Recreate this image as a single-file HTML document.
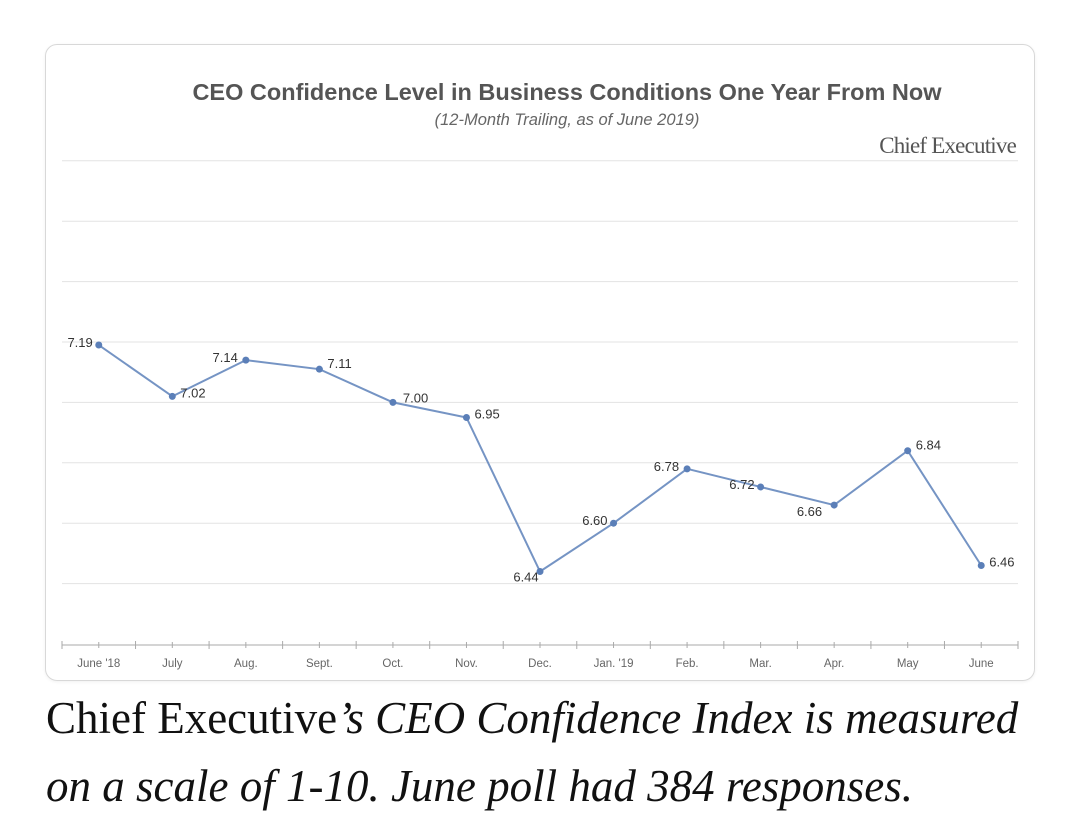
<!DOCTYPE html>
<html><head><meta charset="utf-8"><style>
body{margin:0;width:1080px;height:836px;background:#fff;overflow:hidden;font-family:"Liberation Sans",sans-serif}
#card{position:absolute;left:45px;top:44px;width:988px;height:635px;border:1px solid #d8d8d8;border-radius:12px;box-shadow:0 1px 3px rgba(0,0,0,0.06)}
#caption{position:absolute;left:46px;top:684px;font-family:"Liberation Serif",serif;font-size:45px;line-height:68px;color:#111;font-style:italic;white-space:nowrap}
</style></head><body>
<div id="card"></div>
<svg width="1080" height="836" style="position:absolute;left:0;top:0" id="chart">
<text x="567" y="100" text-anchor="middle" font-family="Liberation Sans" font-weight="bold" font-size="23.5" fill="#555">CEO Confidence Level in Business Conditions One Year From Now</text>
<text x="567" y="125" text-anchor="middle" font-family="Liberation Sans" font-style="italic" font-size="16.5" fill="#666">(12-Month Trailing, as of June 2019)</text>
<text x="1016" y="153" text-anchor="end" font-family="Liberation Serif" font-size="23" fill="#555" letter-spacing="-0.8">Chief Executive</text>
<g id="grid"></g><g id="axis"></g><g id="series"></g>
</svg>
<div id="caption"><span style="font-style:normal">Chief Executive</span>’s CEO Confidence Index is measured<br>on a scale of 1-10. June poll had 384 responses.</div>
<script>
const categories=["June '18","July","Aug.","Sept.","Oct.","Nov.","Dec.","Jan. '19","Feb.","Mar.","Apr.","May","June"];
const values=[7.19,7.02,7.14,7.11,7.00,6.95,6.44,6.60,6.78,6.72,6.66,6.84,6.46];
const valueLabels=["7.19","7.02","7.14","7.11","7.00","6.95","6.44","6.60","6.78","6.72","6.66","6.84","6.46"];
const labelSide=["l","r","lt","rt","t","r","b","l","lt","l","bl","rt","r"];
const gridTicks=[6.2,6.4,6.6,6.8,7.0,7.2,7.4,7.6,7.8];
const NS="http://www.w3.org/2000/svg";
const x0=62,x1=1018,band=(x1-x0)/categories.length;
const y=v=>644-(v-6.2)*302;
const x=i=>x0+band*(i+0.5);
function mk(t,a,p){const e=document.createElementNS(NS,t);for(const k in a)e.setAttribute(k,a[k]);p.appendChild(e);return e;}
const grid=document.getElementById('grid'),axis=document.getElementById('axis'),ser=document.getElementById('series');
gridTicks.forEach(v=>{if(v===6.2)return;const l=mk('line',{x1:x0,x2:x1,y1:y(v),y2:y(v),stroke:'#e3e3e3','stroke-width':1},grid);

});
const al=mk('line',{x1:x0,x2:x1,y1:645,y2:645,stroke:'#aaa','stroke-width':1},axis);


for(let i=0;i<=categories.length;i++){mk('line',{x1:x0+band*i,x2:x0+band*i,y1:641,y2:649,stroke:'#aaa'},axis);}
categories.forEach((c,i)=>{mk('line',{x1:x(i),x2:x(i),y1:642,y2:648,stroke:'#aaa'},axis);
const t=mk('text',{x:x(i),y:667,'text-anchor':'middle','font-size':11.5,fill:'#666'},axis);t.textContent=c;

});
const pl=mk('polyline',{points:values.map((v,i)=>x(i)+','+y(v)).join(' '),fill:'none',stroke:'#7594c4','stroke-width':2},ser);


values.forEach((v,i)=>{const c=mk('circle',{cx:x(i),cy:y(v),r:3.5,fill:'#5b7fb8'},ser);


const s=labelSide[i];let dx=0,dy=0,anc='middle';
if(s==='l'){dx=-6;dy=2;anc='end';}else if(s==='r'){dx=8;dy=1;anc='start';}
else if(s==='lt'){dx=-8;dy=2;anc='end';}else if(s==='rt'){dx=8;dy=-1;anc='start';}
else if(s==='t'){dx=10;dy=0;anc='start';}else if(s==='b'){dx=-14;dy=10;anc='middle';}
else if(s==='bl'){dx=-12;dy=11;anc='end';}
const t=mk('text',{x:x(i)+dx,y:y(v)+dy,'text-anchor':anc,'font-size':13,fill:'#333'},ser);t.textContent=valueLabels[i];

});
</script>
</body></html>
